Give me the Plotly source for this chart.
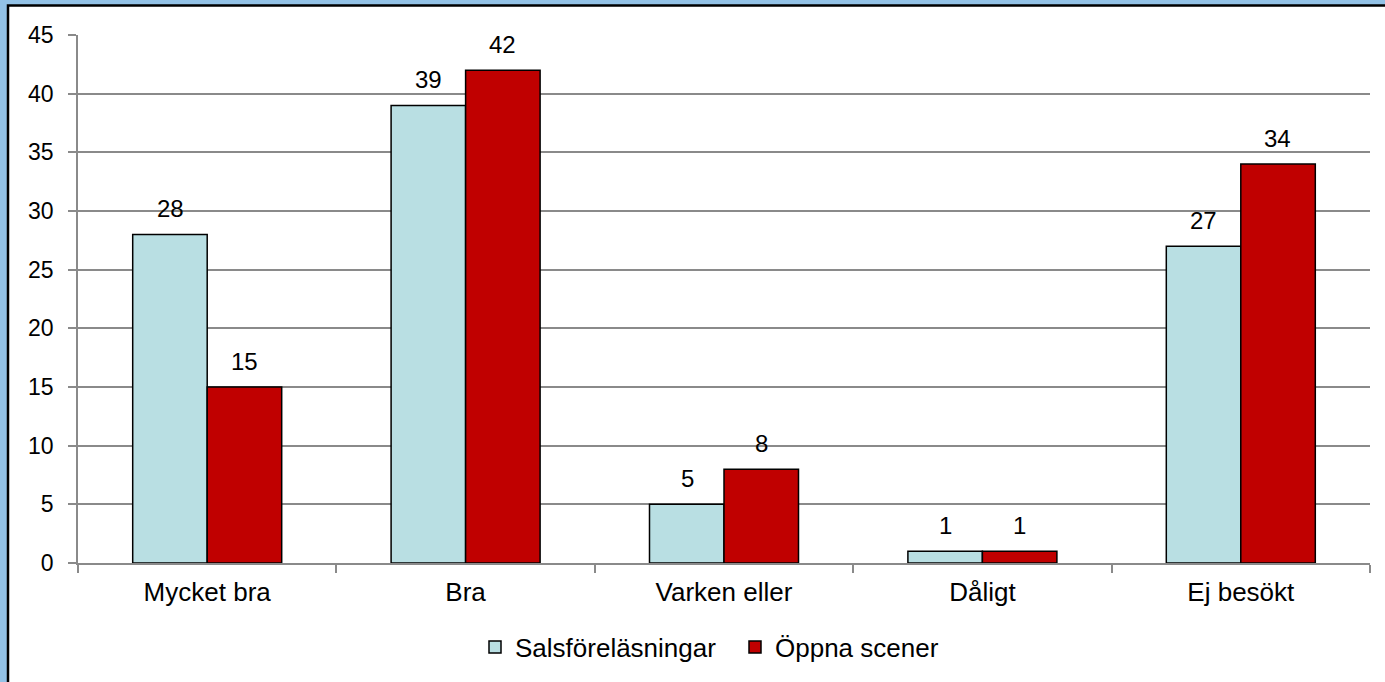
import plotly.graph_objects as go

categories = ["Mycket bra", "Bra", "Varken eller", "Dåligt", "Ej besökt"]
series_names = ["Salsföreläsningar", "Öppna scener"]
salsforelasningar = [28, 39, 5, 1, 27]
oppna_scener = [15, 42, 8, 1, 34]
y_ticks = [0, 5, 10, 15, 20, 25, 30, 35, 40, 45]

W, H = 1385, 682
ML, MR, MT, MB = 78, 15, 35, 119
PW = W - ML - MR
PH = H - MT - MB

def px_x(p):
    return (p - ML) / PW

def px_y(q):
    return (H - MB - q) / PH

FONT = "Liberation Sans, Arial, sans-serif"
colors = ["#B9DFE3", "#C00000"]

fig = go.Figure()
for name, vals, col in zip(series_names, [salsforelasningar, oppna_scener], colors):
    fig.add_trace(go.Bar(
        x=categories, y=vals, name=name,
        marker=dict(color=col, line=dict(color="#000000", width=1.5)),
    ))

annotations = []
for shift, vals in zip([-37, 37], [salsforelasningar, oppna_scener]):
    for c, v in zip(categories, vals):
        annotations.append(dict(
            x=c, y=v, xref="x", yref="y", text=str(v), showarrow=False,
            xshift=shift, yshift=26, yanchor="middle",
            font=dict(family=FONT, size=24, color="#000000"),
        ))

fig.update_layout(
    width=W, height=H,
    margin=dict(l=ML, r=MR, t=MT, b=MB, pad=0),
    paper_bgcolor="#93C2E6",
    plot_bgcolor="rgba(0,0,0,0)",
    barmode="group",
    bargap=0.4234,
    bargroupgap=0,
    font=dict(family=FONT, size=24, color="#000000"),
    showlegend=True,
    legend=dict(
        orientation="h", x=px_x(735), xanchor="center", y=px_y(647), yanchor="middle",
        font=dict(family=FONT, size=26, color="#000000"),
        bgcolor="rgba(0,0,0,0)", traceorder="normal",
        entrywidth=215, entrywidthmode="pixels",
    ),
    annotations=annotations,
    shapes=[dict(
        type="rect", xref="paper", yref="paper", layer="below",
        x0=px_x(8), x1=px_x(1420), y0=px_y(720), y1=px_y(5.5),
        fillcolor="#FFFFFF", line=dict(color="#000000", width=2.5),
    )],
)

fig.update_xaxes(
    type="category",
    showline=True, linecolor="#8A8A8A", linewidth=1.5,
    ticks="outside", tickson="boundaries", ticklen=8, tickcolor="#8A8A8A", tickwidth=1.5,
    showgrid=False,
    tickfont=dict(family=FONT, size=26, color="#000000"),
    ticklabelstandoff=5,
)
fig.update_yaxes(
    range=[0, 45], tickvals=y_ticks, ticktext=[str(t) for t in y_ticks],
    showline=True, linecolor="#8A8A8A", linewidth=1.5,
    ticks="outside", ticklen=8, tickcolor="#8A8A8A", tickwidth=1.5,
    showgrid=True, gridcolor="#8A8A8A", gridwidth=1.5,
    zeroline=False,
    tickfont=dict(family=FONT, size=23, color="#000000"),
    ticklabelstandoff=10,
)

fig.write_html(
    "out.html",
    config={"displayModeBar": False},
    post_script="document.body.style.margin='0';document.body.style.overflow='hidden';",
)
